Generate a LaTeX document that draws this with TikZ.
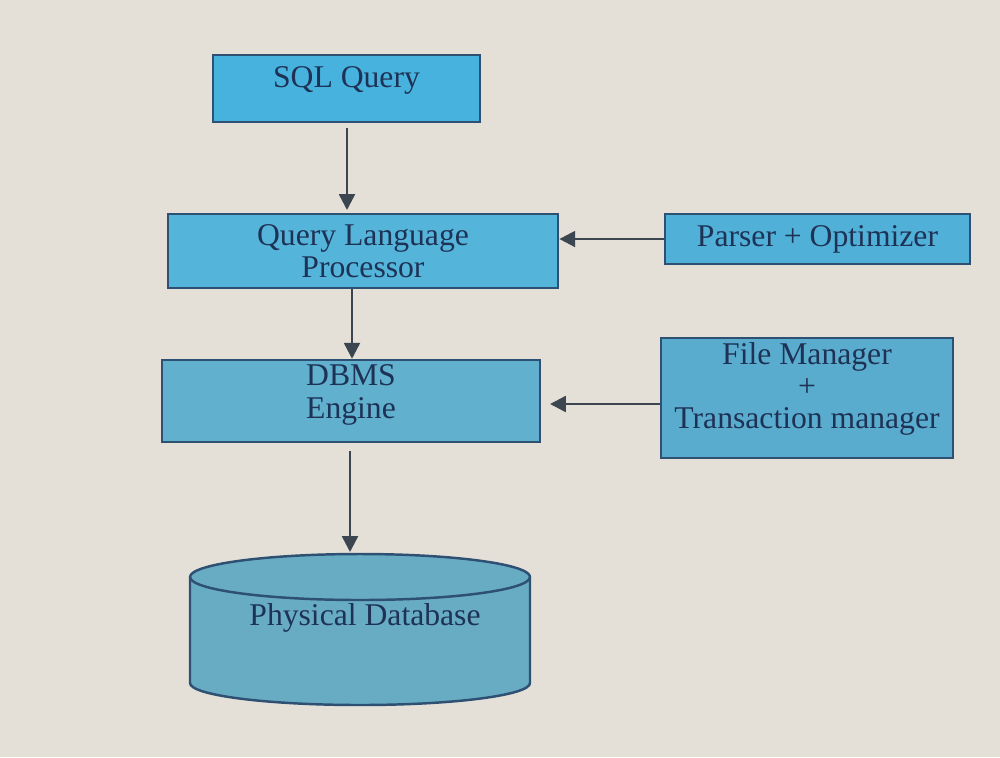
\documentclass[tikz,border=0pt]{standalone}
\usepackage{fontspec}
\setmainfont{Liberation Serif}
\usetikzlibrary{arrows.meta}
\definecolor{bgc}{RGB}{228,224,216}
\definecolor{edgec}{RGB}{45,80,115}
\definecolor{txtc}{RGB}{30,50,85}
\definecolor{fa}{RGB}{72,178,222}
\definecolor{fb}{RGB}{84,180,218}
\definecolor{fc}{RGB}{80,176,216}
\definecolor{fd}{RGB}{96,176,206}
\definecolor{fe}{RGB}{90,172,206}
\definecolor{ff}{RGB}{104,172,196}
\definecolor{arrc}{RGB}{60,70,80}
\begin{document}
\begin{tikzpicture}[x=0.01cm,y=-0.01cm,
  boxst/.style={draw=edgec,line width=0.7pt,text=txtc,inner sep=0pt,font=\fontsize{9}{9.2}\selectfont,align=center},
  txtst/.style={text=txtc,inner sep=0pt,font=\fontsize{9}{9.2}\selectfont,align=center},
  conn/.style={draw=arrc,line width=0.7pt,-{Triangle[length=4.5pt,width=4.5pt]}}]
\useasboundingbox[fill=bgc] (0,0) rectangle (1000,757);
% boxes
\node[boxst,fill=fa,minimum width=26.7mm,minimum height=6.7mm] (sql) at (346.5,88.5) {};
\node[txtst] (sqltxt) at (346.5,80) {SQL Query};
\node[boxst,fill=fb,minimum width=39mm,minimum height=7.4mm] (qlp) at (363,251) {Query Language\\Processor};
\node[boxst,fill=fc,minimum width=30.5mm,minimum height=5mm] (po) at (817.5,239) {Parser + Optimizer};
\node[boxst,fill=fd,minimum width=37.8mm,minimum height=8.2mm] (dbms) at (351,401) {};
\node[txtst] (dbmstxt) at (351,395) {DBMS\\Engine};
\node[boxst,fill=fe,minimum width=29.2mm,minimum height=12mm] (fm) at (807,398) {};
\node[txtst] (fmtxt) at (807,389) {File Manager\\+\\Transaction manager};
% cylinder
\draw[draw=edgec,line width=0.7pt,fill=ff] (190,577) -- (190,683) arc[start angle=180,end angle=0,x radius=170,y radius=22] -- (530,577) arc[start angle=0,end angle=-180,x radius=170,y radius=23] -- cycle;
\draw[draw=edgec,line width=0.7pt] (190,577) arc[start angle=180,end angle=0,x radius=170,y radius=23];
\coordinate (dbtop) at (350,552);
\node[txtst] (db) at (365,618) {Physical Database};
% connectors
\draw[conn] (sql.south -| 347,0) ++(0,5) -- (347,210);
\draw[conn] (qlp.south -| 352,0) -- (dbms.north -| 352,0);
\draw[conn] (po.west) -- (po.west -| qlp.east);
\coordinate (dbmsr) at (550,404);
\draw[conn] (fm.west |- dbmsr) -- (dbmsr);
\draw[conn] (dbms.south -| 350,0) ++(0,8) -- (dbtop);
\end{tikzpicture}
\end{document}
